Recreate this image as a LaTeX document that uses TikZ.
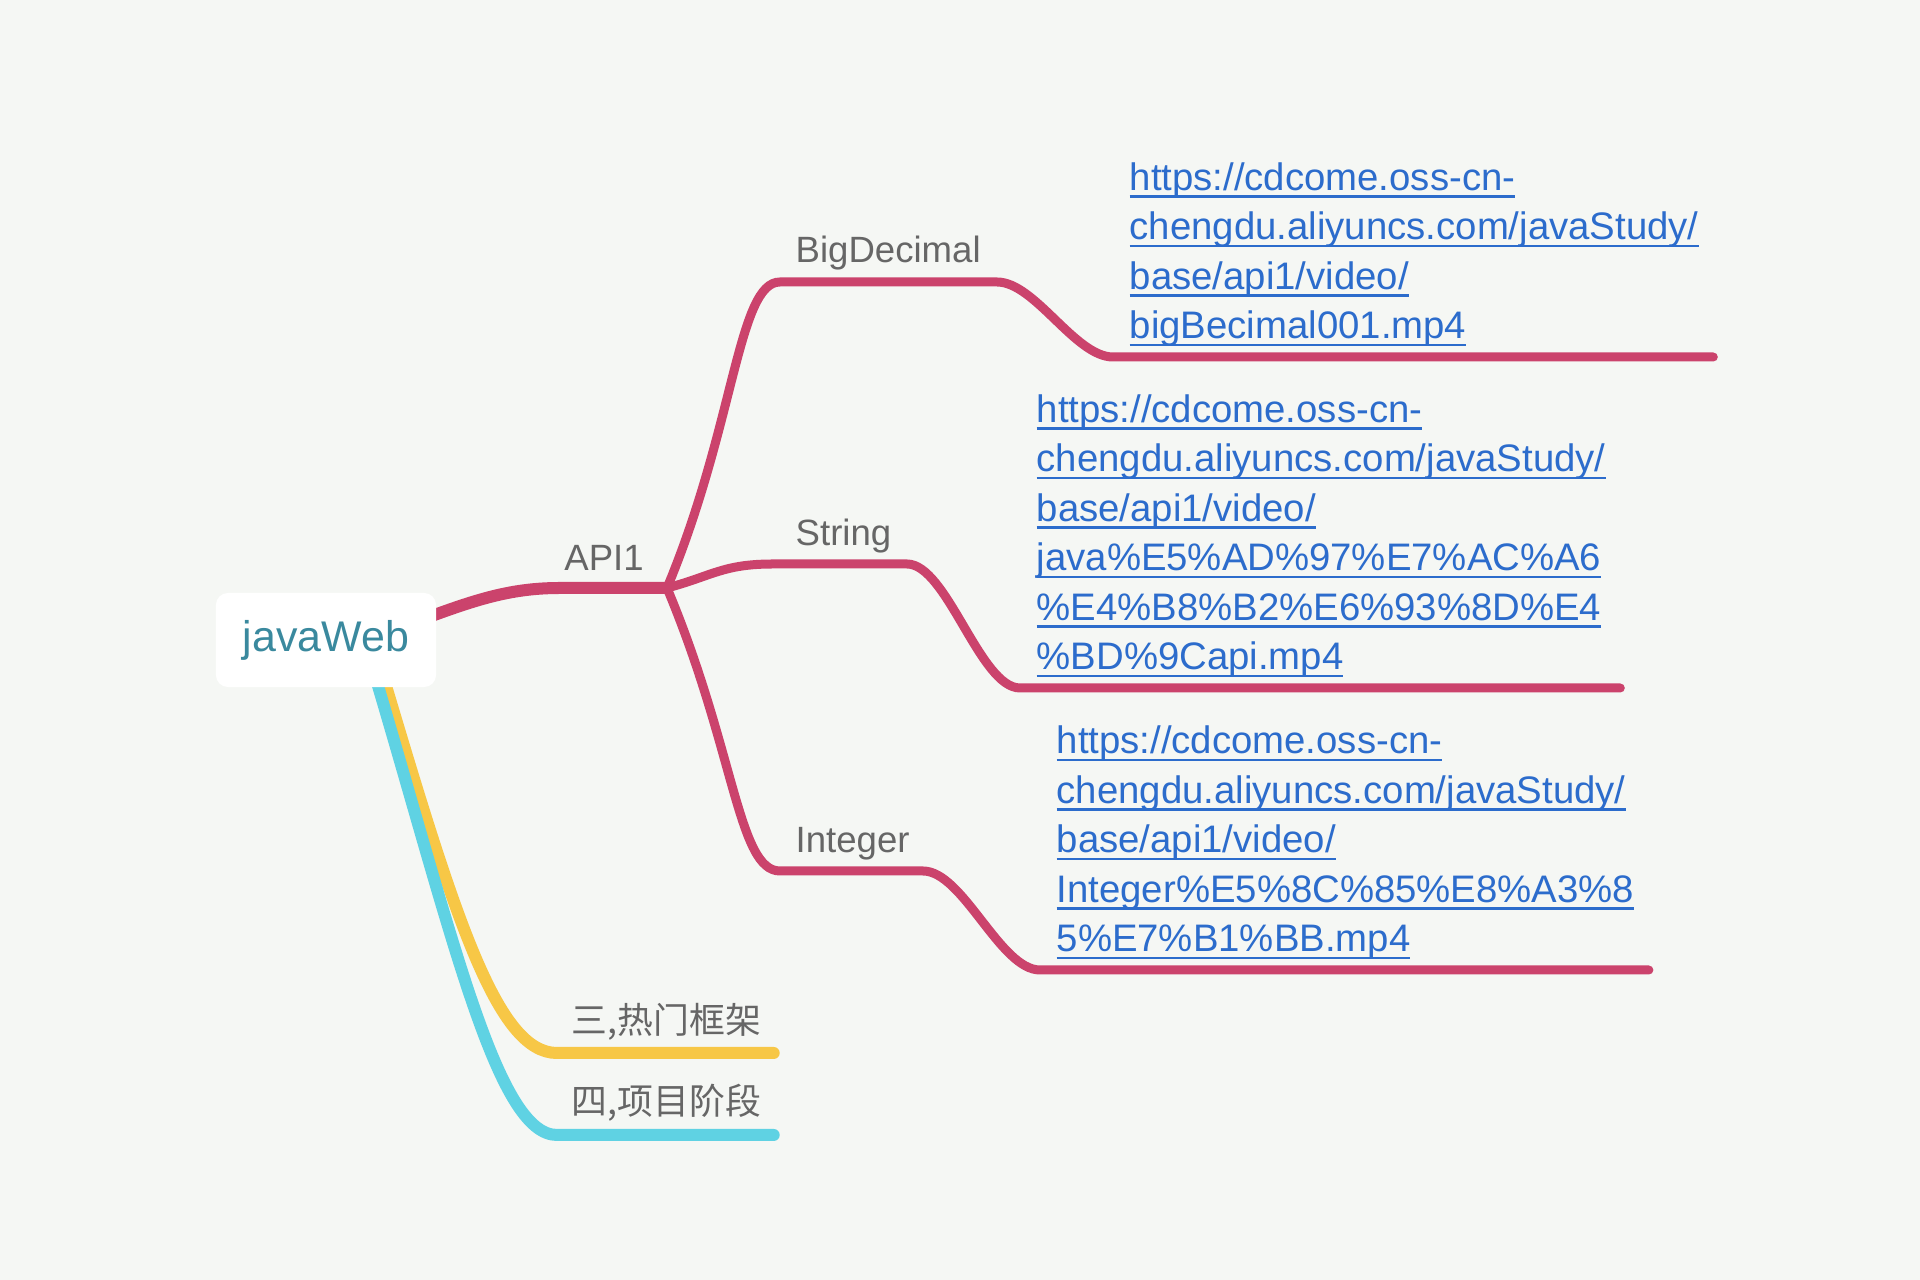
\documentclass[tikz,border=0pt]{standalone}
\usepackage{fontspec}
\setmainfont{Liberation Sans}
\newfontfamily\cjkfont{Noto Sans CJK SC}
\usetikzlibrary{calc,positioning}
\definecolor{mybg}{RGB}{245,247,244}
\definecolor{mypink}{RGB}{203,67,108}
\definecolor{myyellow}{RGB}{247,199,70}
\definecolor{mycyan}{RGB}{95,210,227}
\definecolor{myteal}{RGB}{58,137,158}
\definecolor{mygray}{RGB}{102,102,102}
\definecolor{myblue}{RGB}{44,108,204}
\pgfdeclarelayer{edges}
\pgfsetlayers{edges,main}
\newcommand{\lnk}[1]{\setbox0\hbox{#1}\rlap{\rule[-2.1pt]{\wd0}{0.7pt}}\box0}
\tikzset{
  rootbox/.style={fill=white, rounded corners=0.12cm, minimum width=2.2cm, minimum height=0.94cm, text=myteal, font=\fontsize{12.2}{14}\selectfont},
  lbl/.style={text=mygray, inner sep=0pt, anchor=base west, font=\fontsize{10.4}{12.5}\selectfont},
  cjklbl/.style={lbl, font=\cjkfont\fontsize{10.2}{12}\selectfont},
  link/.style={text=myblue, align=left, inner xsep=0.14cm, inner ysep=0pt, anchor=base west, font=\fontsize{10.9}{14.08}\selectfont},
  trunk/.style={line width=0.12cm, line cap=round},
  twig/.style={line width=0.09cm, line cap=round, mypink},
}

\begin{document}
\begin{tikzpicture}[x=0.01cm, y=-0.01cm]
\node[rootbox] (root) at (326,640) {javaWeb};
\coordinate (api) at (560,588);
\coordinate (hub) at (667,588);
\coordinate (bd) at (780,282);
\coordinate (bdend) at (997,282);
\coordinate (bdlink) at (1113,357);
\coordinate (st) at (773,564);
\coordinate (stend) at (907,564);
\coordinate (stlink) at (1020,688);
\coordinate (in) at (780,871);
\coordinate (inend) at (923,871);
\coordinate (inlink) at (1040,970);
\coordinate (fw) at (557,1053);
\coordinate (pj) at (557,1135);

\node[lbl, anchor=base] (apil) at (604,571) {API1};
\node[lbl] (bdl) at ($(bd)+(15,-19)$) {BigDecimal};
\node[lbl] (stl) at ($(st)+(22,-18)$) {String};
\node[lbl] (inl) at ($(in)+(15,-18)$) {Integer};
\node[cjklbl] (fwl) at ($(fw)+(14,-19)$) {三,热门框架};
\node[cjklbl] (pjl) at ($(pj)+(14,-20)$) {四,项目阶段};

\node[link] (bdu) at ($(bdlink)+(2,-18)$) {\lnk{https://cdcome.oss-cn-}\\
  \lnk{chengdu.aliyuncs.com/javaStudy/}\\
  \lnk{base/api1/video/}\\
  \lnk{bigBecimal001.mp4}};
\node[link] (stu) at ($(stlink)+(2,-18)$) {\lnk{https://cdcome.oss-cn-}\\
  \lnk{chengdu.aliyuncs.com/javaStudy/}\\
  \lnk{base/api1/video/}\\
  \lnk{java\%E5\%AD\%97\%E7\%AC\%A6}\\
  \lnk{\%E4\%B8\%B2\%E6\%93\%8D\%E4}\\
  \lnk{\%BD\%9Capi.mp4}};
\node[link] (inu) at ($(inlink)+(2,-18)$) {\lnk{https://cdcome.oss-cn-}\\
  \lnk{chengdu.aliyuncs.com/javaStudy/}\\
  \lnk{base/api1/video/}\\
  \lnk{Integer\%E5\%8C\%85\%E8\%A3\%8}\\
  \lnk{5\%E7\%B1\%BB.mp4}};

\begin{pgfonlayer}{edges}
\fill[mybg] (0,0) rectangle (1920,1280);
\draw[trunk, myyellow] ($(root.south)+(57,-12)$) .. controls +(72,242) and +(-60,0) .. (fw) -- ($(fw -| fwl.east)+(12,0)$);
\draw[trunk, mycyan] ($(root.south)+(49,-12)$) .. controls +(78,262) and +(-60,0) .. (pj) -- ($(pj -| pjl.east)+(12,0)$);
\draw[trunk, mypink] ($(root.east)+(-16,-20)$) .. controls +(54,-20) and +(-50,0) .. (api) -- (hub);
\draw[twig] (hub) .. controls +(68,-163) and +(-42,0) .. (bd) -- (bdend) .. controls +(38,0) and +(-38,0) .. (bdlink) -- (bdlink -| bdu.east);
\draw[twig] (hub) .. controls +(45,-12) and +(-50,0) .. (st) -- (stend) .. controls +(40,0) and +(-40,0) .. (stlink) -- (stlink -| stu.east);
\draw[twig] (hub) .. controls +(68,162) and +(-42,0) .. (in) -- (inend) .. controls +(40,0) and +(-40,0) .. (inlink) -- (inlink -| inu.east);
\end{pgfonlayer}
\end{tikzpicture}
\end{document}
